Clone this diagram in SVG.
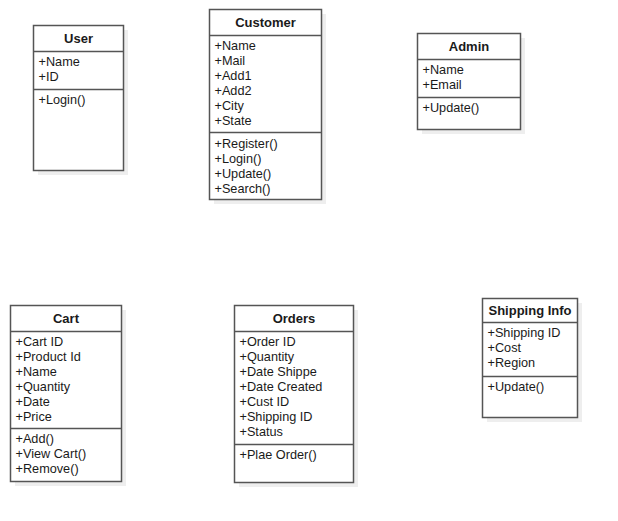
<svg xmlns="http://www.w3.org/2000/svg" width="618" height="521" viewBox="0 0 618 521">
<style>
.box{fill:#fff;stroke:#555;stroke-width:1.5}
.sh{fill:#eeeeee}
.ln{stroke:#555;stroke-width:1.5}
.t{font-family:"Liberation Sans",Arial,sans-serif;font-size:12.7px;fill:#1a1a1a}
.h{font-family:"Liberation Sans",Arial,sans-serif;font-size:13px;font-weight:bold;fill:#1a1a1a;text-anchor:middle}
</style>
<rect width="618" height="521" fill="#fff"/>
<g id="user">
<rect class="sh" x="38" y="30" width="90" height="145"/>
<rect class="box" x="33.5" y="25.5" width="90" height="145"/>
<line class="ln" x1="33.5" y1="51.5" x2="123.5" y2="51.5"/>
<line class="ln" x1="33.5" y1="89.5" x2="123.5" y2="89.5"/>
<text class="h" x="78.5" y="43">User</text>
<text class="t" x="38.5" y="66">+Name</text>
<text class="t" x="38.5" y="81">+ID</text>
<text class="t" x="38.5" y="104">+Login()</text>
</g>
<g id="customer">
<rect class="sh" x="214" y="14" width="112" height="190"/>
<rect class="box" x="209.5" y="9.5" width="112" height="190"/>
<line class="ln" x1="209.5" y1="35.5" x2="321.5" y2="35.5"/>
<line class="ln" x1="209.5" y1="132.5" x2="321.5" y2="132.5"/>
<text class="h" x="265.5" y="27">Customer</text>
<text class="t" x="214.5" y="50">+Name</text>
<text class="t" x="214.5" y="65">+Mail</text>
<text class="t" x="214.5" y="80">+Add1</text>
<text class="t" x="214.5" y="95">+Add2</text>
<text class="t" x="214.5" y="110">+City</text>
<text class="t" x="214.5" y="125">+State</text>
<text class="t" x="214.5" y="148">+Register()</text>
<text class="t" x="214.5" y="163">+Login()</text>
<text class="t" x="214.5" y="178">+Update()</text>
<text class="t" x="214.5" y="193">+Search()</text>
</g>
<g id="admin">
<rect class="sh" x="422" y="38" width="103" height="96"/>
<rect class="box" x="417.5" y="33.5" width="103" height="96"/>
<line class="ln" x1="417.5" y1="59.5" x2="520.5" y2="59.5"/>
<line class="ln" x1="417.5" y1="97.5" x2="520.5" y2="97.5"/>
<text class="h" x="469" y="51">Admin</text>
<text class="t" x="422.5" y="74">+Name</text>
<text class="t" x="422.5" y="89">+Email</text>
<text class="t" x="422.5" y="112">+Update()</text>
</g>
<g id="cart">
<rect class="sh" x="15" y="310" width="111" height="176"/>
<rect class="box" x="10.5" y="305.5" width="111" height="176"/>
<line class="ln" x1="10.5" y1="331.5" x2="121.5" y2="331.5"/>
<line class="ln" x1="10.5" y1="428.5" x2="121.5" y2="428.5"/>
<text class="h" x="66" y="323">Cart</text>
<text class="t" x="15.5" y="346">+Cart ID</text>
<text class="t" x="15.5" y="361">+Product Id</text>
<text class="t" x="15.5" y="376">+Name</text>
<text class="t" x="15.5" y="391">+Quantity</text>
<text class="t" x="15.5" y="406">+Date</text>
<text class="t" x="15.5" y="421">+Price</text>
<text class="t" x="15.5" y="443">+Add()</text>
<text class="t" x="15.5" y="458">+View Cart()</text>
<text class="t" x="15.5" y="473">+Remove()</text>
</g>
<g id="orders">
<rect class="sh" x="239" y="310" width="119" height="177"/>
<rect class="box" x="234.5" y="305.5" width="119" height="177"/>
<line class="ln" x1="234.5" y1="331.5" x2="353.5" y2="331.5"/>
<line class="ln" x1="234.5" y1="444.5" x2="353.5" y2="444.5"/>
<text class="h" x="294" y="323">Orders</text>
<text class="t" x="239.5" y="346">+Order ID</text>
<text class="t" x="239.5" y="361">+Quantity</text>
<text class="t" x="239.5" y="376">+Date Shippe</text>
<text class="t" x="239.5" y="391">+Date Created</text>
<text class="t" x="239.5" y="406">+Cust ID</text>
<text class="t" x="239.5" y="421">+Shipping ID</text>
<text class="t" x="239.5" y="436">+Status</text>
<text class="t" x="239.5" y="459">+Plae Order()</text>
</g>
<g id="shipping">
<rect class="sh" x="487" y="303" width="95" height="119"/>
<rect class="box" x="482.5" y="298.5" width="95" height="119"/>
<line class="ln" x1="482.5" y1="322.5" x2="577.5" y2="322.5"/>
<line class="ln" x1="482.5" y1="376.5" x2="577.5" y2="376.5"/>
<text class="h" x="530" y="315">Shipping Info</text>
<text class="t" x="487.5" y="337">+Shipping ID</text>
<text class="t" x="487.5" y="352">+Cost</text>
<text class="t" x="487.5" y="367">+Region</text>
<text class="t" x="487.5" y="391">+Update()</text>
</g>
<g id="connectors"></g>
</svg>
